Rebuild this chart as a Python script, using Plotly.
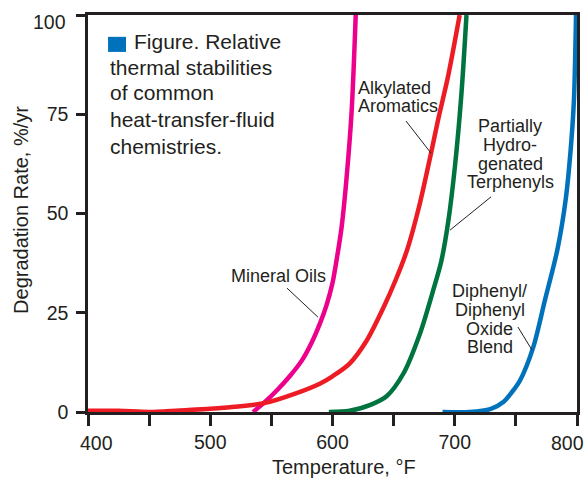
import plotly.graph_objects as go

# ---- data ----
mineral_x = [535, 545, 555, 565, 575, 583, 590, 595, 600, 604, 607.5, 611.6, 615.7, 619]
mineral_y = [0, 2.6, 5.6, 9.0, 13.0, 17.5, 22.5, 26.8, 32.5, 39.5, 46.7, 59.3, 76, 100]

alkyl_x = [400, 425, 450, 475, 500, 520, 545, 570, 590, 600, 614, 628, 642, 652, 661, 671.5, 680.6, 686.3, 694.5, 704]
alkyl_y = [0.3, 0.3, 0, 0.4, 0.8, 1.3, 2.3, 4.7, 7.2, 9, 12.2, 18, 26.5, 33.5, 40.8, 52.6, 65.2, 73.5, 84.5, 100]

terph_x = [597, 614, 631, 644, 658, 671.6, 682.4, 689, 694.7, 700.2, 705.5, 709.6]
terph_y = [0, 0.3, 1.8, 3.9, 9.7, 19.8, 30.7, 38, 48, 62, 80.3, 100]

diph_x = [690, 712, 729, 740, 748, 753.5, 764.3, 773.8, 783.9, 790.7, 794.8, 797.5, 799.2]
diph_y = [0, 0, 0.7, 2.6, 5.5, 8, 16.4, 28.2, 40.8, 53.4, 66, 78.6, 100]

x_ticks = [400, 450, 500, 550, 600, 650, 700, 750, 800]
x_tick_labels = ["", "", "500", "", "600", "", "700", "", ""]
x_edge_labels = ["400", "800"]
y_ticks = [0, 25, 50, 75, 100]
y_tick_labels = ["0", "25", "50", "75", ""]
y_edge_label = "100"

caption_lines = ["Figure. Relative", "thermal stabilities", "of common",
                 "heat-transfer-fluid", "chemistries."]

FONT = "Liberation Sans, Arial, Helvetica, sans-serif"
INK = "#231F20"

fig = go.Figure()
series = [
    (mineral_x, mineral_y, "#EC008C"),
    (alkyl_x, alkyl_y, "#ED1C24"),
    (terph_x, terph_y, "#00743F"),
    (diph_x, diph_y, "#0072BC"),
]
for xs, ys, col in series:
    fig.add_trace(go.Scatter(x=xs, y=ys, mode="lines",
                             line=dict(color=col, width=4.5, shape="spline", smoothing=0.8),
                             showlegend=False, hoverinfo="skip"))

annotations = []
# caption
cap_y = [93.4, 86.9, 80.6, 73.8, 67.0]
for i, (txt, yy) in enumerate(zip(caption_lines, cap_y)):
    annotations.append(dict(x=436.0 if i == 0 else 416.4, y=yy, xref="x", yref="y",
                            text=txt, showarrow=False, xanchor="left", yanchor="middle",
                            font=dict(family=FONT, size=21, color=INK)))

def label_lines(lines, x, ys, anchor):
    for t, yy in zip(lines, ys):
        annotations.append(dict(x=x, y=yy, xref="x", yref="y", text=t, showarrow=False,
                                xanchor=anchor, yanchor="middle",
                                font=dict(family=FONT, size=18, color=INK)))

label_lines(["Alkylated", "Aromatics"], 619.2, [81.6, 77.1], "left")
label_lines(["Partially", "Hydro-", "genated", "Terphenyls"], 745.2, [72.0, 67.3, 62.5, 57.9], "center")
label_lines(["Mineral Oils"], 515.3, [34.3], "left")
label_lines(["Diphenyl/", "Diphenyl", "Oxide", "Blend"], 728.8, [30.5, 25.7, 20.9, 16.4], "center")

# edge tick labels (nudged inward as in the reference)
for txt, px in zip(x_edge_labels, [0.0184, 0.9796]):
    annotations.append(dict(x=px, y=-0.078, xref="paper", yref="paper", text=txt,
                            showarrow=False, xanchor="center", yanchor="middle",
                            font=dict(family=FONT, size=19.5, color=INK)))
annotations.append(dict(x=-0.0409, y=0.9836, xref="paper", yref="paper", text=y_edge_label,
                        showarrow=False, xanchor="right", yanchor="middle",
                        font=dict(family=FONT, size=19.5, color=INK)))

# axis titles
annotations.append(dict(x=-0.137, y=0.509, xref="paper", yref="paper",
                        text="Degradation Rate, %/yr", textangle=-90, showarrow=False,
                        xanchor="center", yanchor="middle",
                        font=dict(family=FONT, size=20, color=INK)))
annotations.append(dict(x=0.5235, y=-0.1385, xref="paper", yref="paper",
                        text="Temperature, °F", showarrow=False,
                        xanchor="center", yanchor="middle",
                        font=dict(family=FONT, size=20, color=INK)))

shapes = [
    dict(type="rect", xref="x", yref="y", x0=416.4, x1=431.1, y0=90.7, y1=94.5,
         fillcolor="#0072BC", line=dict(width=0)),
]
leaders = [
    ((660.1, 73.3), (680.6, 65.2)),
    ((729.7, 54.2), (696.1, 45.8)),
    ((562.8, 31.2), (588.1, 23.9)),
    ((751.7, 21.4), (763.2, 15.6)),
]
for (a, b) in leaders:
    shapes.append(dict(type="line", xref="x", yref="y", x0=a[0], y0=a[1], x1=b[0], y1=b[1],
                       line=dict(color=INK, width=1)))

fig.update_layout(
    width=585, height=479,
    margin=dict(l=88, r=8, t=15, b=67, pad=0),
    paper_bgcolor="white", plot_bgcolor="white",
    annotations=annotations, shapes=shapes,
    xaxis=dict(range=[400, 800], tickvals=x_ticks, ticktext=x_tick_labels,
               ticks="outside", ticklen=11, tickwidth=2.5, tickcolor=INK,
               showline=True, linewidth=2.5, linecolor=INK, mirror=True,
               showgrid=False, zeroline=False, layer="below traces", automargin=False,
               tickfont=dict(family=FONT, size=19.5, color=INK)),
    yaxis=dict(range=[0, 100], tickvals=y_ticks, ticktext=y_tick_labels,
               ticks="outside", ticklen=9, tickwidth=2.5, tickcolor=INK,
               showline=True, linewidth=2.5, linecolor=INK, mirror=True,
               showgrid=False, zeroline=False, layer="below traces", automargin=False,
               ticklabelstandoff=4,
               tickfont=dict(family=FONT, size=19.5, color=INK)),
)

# remove the browser's default 8px body margin so the figure sits at the page origin
fig.write_html("out.html", config={"displayModeBar": False},
               post_script="document.body.style.margin='0';")
